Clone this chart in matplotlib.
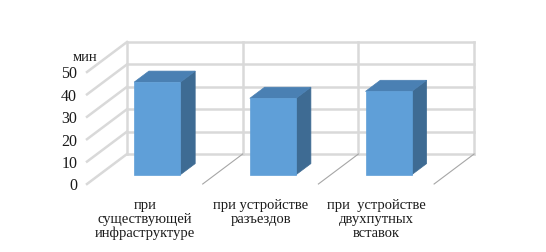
import matplotlib.pyplot as plt
from matplotlib.patches import Polygon

categories = ['при\nсуществующей\nинфраструктуре', 'при устройстве\nразъездов', 'при  устройстве\nдвухпутных\nвставок']
values = [41.3, 34.1, 37.2]
ticks = [0, 10, 20, 30, 40, 50]
unit = 'мин'

plt.rcParams['font.family'] = ['Liberation Serif', 'DejaVu Serif']

# oblique "3d" projection: x in category units, v in minutes, d depth 0 (back) .. 1 (front)
PX_CAT = 115.7
PX_VAL = 2.24
DX = -40 / PX_CAT
DV = -30 / PX_VAL


def proj(x, v, d):
    return x + DX * d, v + DV * d


fig = plt.figure(figsize=(5.46, 2.53), dpi=100)
ax = fig.add_axes([0, 0, 1, 1])
ax.set_xlim(-127 / PX_CAT, (546 - 127) / PX_CAT)
ax.set_ylim((155 - 253) / PX_VAL, 155 / PX_VAL)
ax.axis('off')

grid_c = '#d9d9d9'
n = len(categories)
vmax = ticks[-1]

# back wall and left wall gridlines
for t in ticks:
    ax.plot([0, n], [t, t], color=grid_c, lw=1.8, zorder=1)
    x0, y0 = proj(0, t, 0)
    x1, y1 = proj(0, t, 1)
    ax.plot([x0, x1], [y0, y1], color=grid_c, lw=1.8, zorder=1)
    ax.text(x1 - 0.085, y1 - 0.6, str(t), ha='right', va='center', fontsize=11.5, color='#1a1a1a')

for i in range(n + 1):
    ax.plot([i, i], [0, vmax], color=grid_c, lw=1.8, zorder=1)
    if i > 0:
        x0, y0 = proj(i, 0, 0)
        x1, y1 = proj(i, 0, 1)
        ax.plot([x0, x1], [y0, y1], color='#a6a6a6', lw=0.8, zorder=1)

ux, uy = proj(0, vmax, 1)
ax.text(ux - 0.02, uy + 6.8, unit, ha='center', va='center', fontsize=10.5, color='#1a1a1a')

# bars
d_front, d_back = 0.69, 0.32
half = 0.2
for i, v in enumerate(values):
    xa = i + 0.5 - half
    xb = i + 0.5 + half
    front = [proj(xa, 0, d_front), proj(xb, 0, d_front), proj(xb, v, d_front), proj(xa, v, d_front)]
    top = [proj(xa, v, d_front), proj(xb, v, d_front), proj(xb, v, d_back), proj(xa, v, d_back)]
    side = [proj(xb, 0, d_front), proj(xb, v, d_front), proj(xb, v, d_back), proj(xb, 0, d_back)]
    ax.add_patch(Polygon(side, closed=True, fc='#3e6b93', ec='#3e6b93', lw=0.5, zorder=3))
    ax.add_patch(Polygon(top, closed=True, fc='#4a80b3', ec='#4a80b3', lw=0.5, zorder=3))
    ax.add_patch(Polygon(front, closed=True, fc='#5f9fd8', ec='#5f9fd8', lw=0.5, zorder=4))

# category labels
for i, c in enumerate(categories):
    lx, ly = proj(i + 0.5, 0, 1)
    ax.text(lx, ly - 6.3, c, ha='center', va='top', fontsize=10.5, linespacing=1.08,
            color='#1a1a1a')

fig.savefig('out.png', dpi=100)
